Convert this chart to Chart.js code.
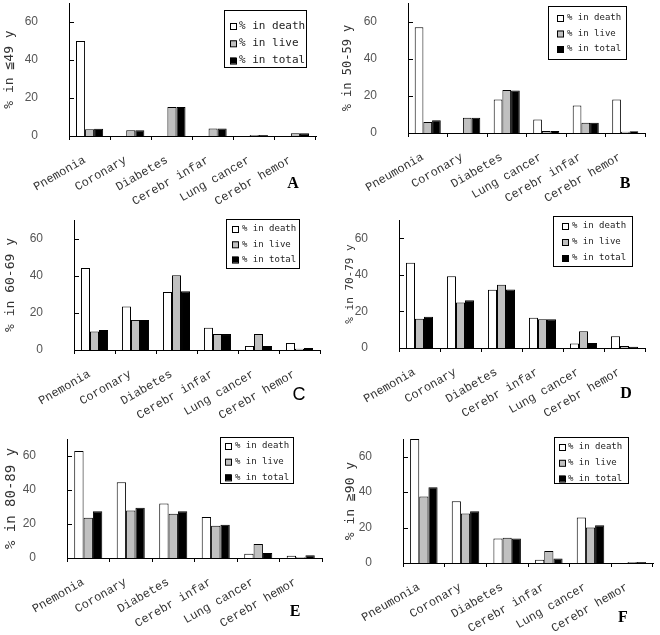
<!DOCTYPE html>
<html>
<head>
<meta charset="utf-8">
<script src="https://cdn.jsdelivr.net/npm/chart.js@4.4.0/dist/chart.umd.min.js"></script>
<style>
  body { margin: 0; background: #fff; }
  #page { position: relative; width: 660px; height: 635px; overflow: hidden; }
  .panel { position: absolute; }
  .tag { position: absolute; transform: translate(-50%, -50%); font: bold 16px "Liberation Serif", serif; color: #000; }
</style>
</head>
<body>
<div id="page">
  <canvas class="panel" id="chartA" width="330" height="210" style="left:0;top:0"></canvas>
  <canvas class="panel" id="chartB" width="330" height="210" style="left:330px;top:0"></canvas>
  <canvas class="panel" id="chartC" width="330" height="210" style="left:0;top:210px"></canvas>
  <canvas class="panel" id="chartD" width="330" height="210" style="left:330px;top:210px"></canvas>
  <canvas class="panel" id="chartE" width="330" height="215" style="left:0;top:420px"></canvas>
  <canvas class="panel" id="chartF" width="330" height="215" style="left:330px;top:420px"></canvas>
  <div class="tag" style="left:293px;top:183px">A</div>
  <div class="tag" style="left:625px;top:183px">B</div>
  <div class="tag" style="left:299px;top:394px;font-weight:normal;font-family:'Liberation Sans',sans-serif;font-size:18px">C</div>
  <div class="tag" style="left:626px;top:393px">D</div>
  <div class="tag" style="left:295px;top:611px">E</div>
  <div class="tag" style="left:623px;top:617px">F</div>
</div>
<script>
// ---------- data ----------
const seriesNames = ["% in death", "% in live", "% in total"];
const yTicks = [0, 20, 40, 60];
const yMax = 70;

const labelsA = ["Pnemonia", "Coronary", "Diabetes", "Cerebr infar", "Lung cancer", "Cerebr hemor"];
const deathA = [50, 0, 0, 0, 0, 0];
const liveA  = [3.6, 3, 15.2, 3.9, 0.5, 1.5];
const totalA = [3.8, 3, 15.2, 3.9, 0.5, 1.5];

const labelsB = ["Pneumonia", "Coronary", "Diabetes", "Lung cancer", "Cerebr infar", "Cerebr hemor"];
const deathB = [57, 0, 18, 7.3, 14.8, 18];
const liveB  = [5.9, 8.2, 23.2, 1.1, 5.5, 0.7];
const totalB = [6.8, 8.2, 22.9, 1.1, 5.5, 1.0];

const labelsC = ["Pnemonia", "Coronary", "Diabetes", "Cerebr infar", "Lung cancer", "Cerebr hemor"];
const deathC = [44.1, 23.4, 31.2, 12, 2.2, 3.8];
const liveC  = [9.9, 16.2, 40.2, 8.6, 8.6, 0.7];
const totalC = [10.8, 16.2, 31.7, 8.6, 2.2, 1.1];

const labelsD = ["Pnemonia", "Coronary", "Diabetes", "Cerebr infar", "Lung cancer", "Cerebr hemor"];
const deathD = [46.6, 39.2, 31.9, 16.6, 2.4, 6.4];
const liveD  = [16, 24.9, 34.6, 15.7, 9.2, 1.1];
const totalD = [17.1, 26.1, 32, 15.7, 2.8, 0.7];

const labelsE = ["Pnemonia", "Coronary", "Diabetes", "Cerebr infar", "Lung cancer", "Cerebr hemor"];
const deathE = [62.9, 44.5, 32, 24.1, 2.5, 1.3];
const liveE  = [23.7, 28, 26.1, 19, 8.2, 0.5];
const totalE = [27.5, 29.6, 27.5, 19.6, 2.9, 1.6];

const labelsF = ["Pneumonia", "Coronary", "Diabetes", "Cerebr infar", "Lung cancer", "Cerebr hemor"];
const deathF = [70, 34.9, 13.8, 1.9, 25.7, 0];
const liveF  = [37.5, 27.9, 14.3, 6.8, 20, 0.5];
const totalF = [42.8, 29.2, 13.8, 2.6, 21.3, 0.5];

const titleA = "% in \u226649 y";
const titleB = "% in 50-59 y";
const titleC = "% in 60-69 y";
const titleD = "% in 70-79 y";
const titleE = "% in 80-89 y";
const titleF = "% in \u226790 y";

// ---------- layout per panel (pixels inside each canvas) ----------
const layoutA = { w: 330, h: 210, left: 69, right: 316, top: 3, bottom: 136, titlePad: 2, titleSize: 13,
  legend: { x: 224, y: 10, w: 82, h: 57, row0: 16, gap: 17.3, sq: 6, sqX: 6, textX: 15, font: 11 } };
const layoutB = { w: 330, h: 210, left: 78, right: 315, top: 3, bottom: 133, titlePad: 11, titleSize: 12,
  legend: { x: 218, y: 6, w: 78, h: 53, row0: 12, gap: 15.5, sq: 6, sqX: 9, textX: 19, font: 9 } };
const layoutC = { w: 330, h: 210, left: 74, right: 320, top: 10, bottom: 140, titlePad: 3, titleSize: 13,
  legend: { x: 226, y: 9, w: 73, h: 49, row0: 10, gap: 15.3, sq: 6, sqX: 6, textX: 16, font: 9 } };
const layoutD = { w: 330, h: 210, left: 69, right: 315, top: 10, bottom: 138, titlePad: 14, titleSize: 11,
  legend: { x: 223, y: 6, w: 79, h: 50, row0: 10, gap: 16, sq: 6, sqX: 9, textX: 19, font: 9 } };
const layoutE = { w: 330, h: 215, left: 67, right: 322, top: 19, bottom: 138, titlePad: 3, titleSize: 14,
  legend: { x: 220, y: 17, w: 73, h: 46, row0: 9, gap: 15.7, sq: 6, sqX: 5, textX: 15, font: 9 } };
const layoutF = { w: 330, h: 215, left: 73, right: 323, top: 19, bottom: 143, titlePad: 13, titleSize: 13,
  legend: { x: 224, y: 17, w: 74, h: 46, row0: 10, gap: 15.8, sq: 6, sqX: 5, textX: 14, font: 9 } };

const barColors = ["#ffffff", "#c0c0c0", "#000000"];

// framed legend plus short inward tick marks on the value axis
const boxLegend = {
  id: "boxLegend",
  afterDraw(chart, args, opts) {
    const ctx = chart.ctx;
    const y = chart.scales.y;
    ctx.save();
    ctx.strokeStyle = "#000";
    ctx.lineWidth = 1;
    ctx.beginPath();
    y.ticks.forEach(t => {
      if (t.value === 0) return;
      const py = Math.round(y.getPixelForValue(t.value)) + 0.5;
      ctx.moveTo(chart.chartArea.left, py);
      ctx.lineTo(chart.chartArea.left + 5, py);
    });
    ctx.stroke();

    ctx.fillStyle = "#fff";
    ctx.fillRect(opts.x, opts.y, opts.w, opts.h);
    ctx.strokeRect(opts.x + 0.5, opts.y + 0.5, opts.w, opts.h);
    ctx.font = opts.font + 'px "DejaVu Sans Mono", monospace';
    ctx.textBaseline = "middle";
    chart.data.datasets.forEach((ds, i) => {
      const cy = opts.y + opts.row0 + i * opts.gap;
      const sx = opts.x + opts.sqX;
      ctx.fillStyle = ds.backgroundColor;
      ctx.fillRect(sx, cy - opts.sq / 2, opts.sq, opts.sq);
      ctx.strokeRect(sx + 0.5, cy - opts.sq / 2 + 0.5, opts.sq, opts.sq);
      ctx.fillStyle = "#222";
      ctx.fillText(ds.label, opts.x + opts.textX, cy);
    });
    ctx.restore();
  }
};

function makePanel(id, labels, death, live, total, title, L) {
  const values = [death, live, total];
  return new Chart(document.getElementById(id), {
    type: "bar",
    data: {
      labels: labels,
      datasets: values.map((v, i) => ({
        label: seriesNames[i],
        data: v,
        backgroundColor: barColors[i],
        borderColor: "#000",
        borderWidth: 1,
        barPercentage: 1.0,
        categoryPercentage: 0.66
      }))
    },
    options: {
      responsive: false,
      animation: false,
      events: [],
      layout: { padding: { left: 0, top: L.top, right: L.w - L.right, bottom: 0 } },
      plugins: {
        legend: { display: false },
        tooltip: { enabled: false },
        boxLegend: L.legend
      },
      scales: {
        x: {
          offset: true,
          grid: { display: true, drawOnChartArea: false, drawTicks: true, tickLength: 4, color: "#000", offset: true },
          border: { display: true, color: "#000", width: 1 },
          ticks: {
            autoSkip: false, minRotation: 30, maxRotation: 30, padding: 13, labelOffset: -5,
            color: "#333", font: { family: "Liberation Mono", size: 12 }
          },
          afterFit: s => {
            s.height = L.h - L.bottom;
            s.paddingLeft = 0; s.paddingRight = 0;
          }
        },
        y: {
          min: 0, max: yMax,
          grid: { display: false },
          border: { display: true, color: "#000", width: 1 },
          ticks: { padding: 23, color: "#555", font: { family: "Liberation Sans", size: 12 } },
          afterBuildTicks: s => { s.ticks = yTicks.map(v => ({ value: v })); },
          title: {
            display: true, text: title, color: "#333",
            padding: { top: L.titlePad, bottom: 0 },
            font: { family: "DejaVu Sans Mono", size: L.titleSize }
          },
          afterFit: s => {
            s.width = L.left;
            s.paddingTop = 0; s.paddingBottom = 0;
          }
        }
      }
    },
    plugins: [boxLegend]
  });
}

makePanel("chartA", labelsA, deathA, liveA, totalA, titleA, layoutA);
makePanel("chartB", labelsB, deathB, liveB, totalB, titleB, layoutB);
makePanel("chartC", labelsC, deathC, liveC, totalC, titleC, layoutC);
makePanel("chartD", labelsD, deathD, liveD, totalD, titleD, layoutD);
makePanel("chartE", labelsE, deathE, liveE, totalE, titleE, layoutE);
makePanel("chartF", labelsF, deathF, liveF, totalF, titleF, layoutF);
</script>
</body>
</html>
